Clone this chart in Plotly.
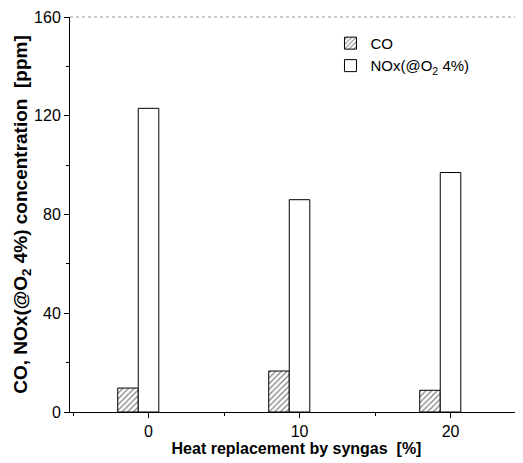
import plotly.graph_objects as go

replacement = [0, 10, 20]
co_ppm = [9.7, 16.6, 8.8]
nox_ppm = [123, 86, 97]

FONT = "Liberation Sans Narrow, Liberation Sans, Arial, sans-serif"

fig = go.Figure()
fig.add_trace(go.Bar(
    x=replacement, y=co_ppm, name="CO",
    offset=-2.04, width=1.36,
    marker=dict(color="white", line=dict(color="black", width=1),
                pattern=dict(shape="/", fgcolor="black", bgcolor="white", size=4, solidity=0.3)),
))
fig.add_trace(go.Bar(
    x=replacement, y=nox_ppm, name="NOx(@O<sub>2</sub> 4%)",
    offset=-0.68, width=1.36,
    marker=dict(color="white", line=dict(color="black", width=1)),
))

fig.update_layout(
    width=515, height=455,
    margin=dict(l=62, r=0, t=9, b=51),
    paper_bgcolor="white", plot_bgcolor="white",
    font=dict(family=FONT, size=16, color="black"),
    barmode="overlay",
    showlegend=True,
    legend=dict(x=0.575, y=0.975, xanchor="left", yanchor="top",
                bgcolor="rgba(0,0,0,0)", font=dict(size=15), tracegroupgap=0),
    xaxis=dict(range=[-5.2, 24.8], tickmode="linear", tick0=0, dtick=10,
               ticks="outside", ticklen=5, tickcolor="black",
               minor=dict(dtick=5, ticklen=3, ticks="outside", tickcolor="black"),
               showline=True, linecolor="black", linewidth=1,
               showgrid=False, zeroline=False,
               title=dict(text="<b>Heat replacement by syngas  [%]</b>", font=dict(size=16), standoff=1)),
    yaxis=dict(range=[0, 160], tickmode="linear", tick0=0, dtick=40,
               ticks="outside", ticklen=5, tickcolor="black",
               minor=dict(dtick=20, ticklen=3, ticks="outside", tickcolor="black"),
               showline=True, linecolor="black", linewidth=1,
               showgrid=False, zeroline=False,
               title=dict(text="<b>CO, NOx(@O<sub>2</sub> 4%) concentration  [ppm]</b>",
                          font=dict(size=19), standoff=0)),
    shapes=[dict(type="line", xref="paper", yref="paper", x0=0, x1=1, y0=1, y1=1,
                 line=dict(color="#999999", width=1, dash="dot"))],
)

fig.write_html("out.html")
